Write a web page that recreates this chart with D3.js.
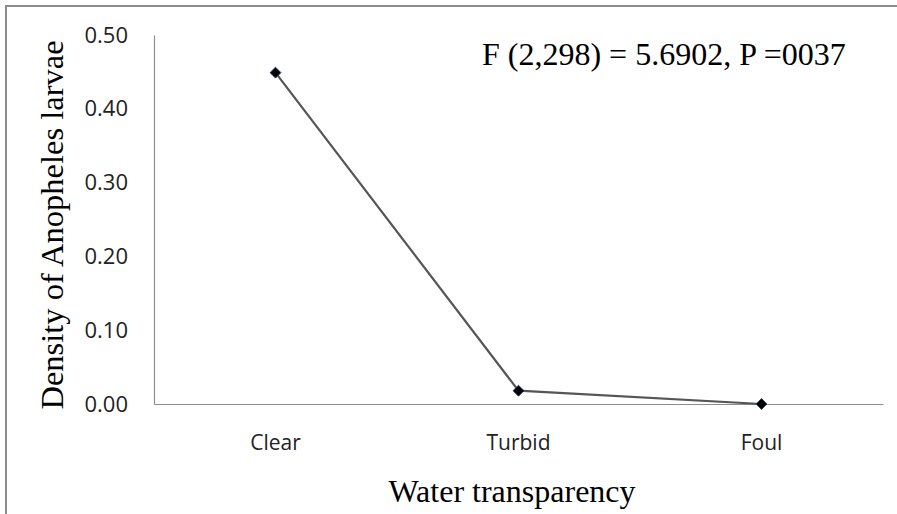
<!DOCTYPE html>
<html><head><meta charset="utf-8">
<script src="https://cdn.jsdelivr.net/npm/d3@7"></script>
<style>body{margin:0;background:#fff}svg{display:block}</style>
</head><body>
<script>
const categories = ["Clear", "Turbid", "Foul"];
const values = [0.449, 0.018, 0.0];
const yTicks = [0, 0.1, 0.2, 0.3, 0.4, 0.5];
const annotation = "F (2,298) = 5.6902, P =0037";
const xTitle = "Water transparency";
const yTitle = "Density of Anopheles larvae";

const W = 897, H = 514;
const svg = d3.select("body").append("svg").attr("width", W).attr("height", H);

// outer frame (top & left visible)
svg.append("path").attr("d", `M6,${H} L6,6 L${W},6`).attr("fill","none")
  .attr("stroke","#8c8c8c").attr("stroke-width",2);

const L = 154, R = 883, T = 35, B = 404;
const x = d3.scaleBand().domain(categories).range([L, R]);
const y = d3.scaleLinear().domain([0, 0.5]).range([B, T]);

const yAxis = svg.append("g").attr("transform", `translate(${L},0)`)
  .call(d3.axisLeft(y).tickValues(yTicks).tickFormat(d3.format(".2f")).tickSize(0).tickPadding(26));
yAxis.select(".domain").attr("stroke","#8c8c8c").attr("stroke-width",1.2);
yAxis.selectAll("text").attr("font-family","'Open Sans', sans-serif").attr("font-size",22).attr("fill","#222");

const xAxis = svg.append("g").attr("transform", `translate(0,${B})`)
  .call(d3.axisBottom(x).tickSize(0).tickPadding(31));
xAxis.select(".domain").attr("stroke","#8c8c8c").attr("stroke-width",1.2);
xAxis.selectAll("text").attr("font-family","'Open Sans', sans-serif").attr("font-size",21).attr("fill","#222");

const line = d3.line().x((d,i)=>x(categories[i]) + x.bandwidth()/2).y(d=>y(d));
svg.append("path").datum(values).attr("d", line).attr("fill","none")
  .attr("stroke","#555").attr("stroke-width",2.2);

svg.selectAll(".pt").data(values).enter().append("path")
  .attr("d", d3.symbol().type(d3.symbolSquare).size(60)())
  .attr("transform",(d,i)=>`translate(${x(categories[i]) + x.bandwidth()/2},${y(d)}) rotate(45)`)
  .attr("fill","#000").attr("stroke","#1f3f6f").attr("stroke-width",0.8);

svg.append("text").attr("x", 482).attr("y", 65).text(annotation)
  .attr("font-family","'Liberation Serif', serif").attr("font-size",32).attr("fill","#000");

svg.append("text").attr("x", 512).attr("y", 502).attr("text-anchor","middle").text(xTitle)
  .attr("font-family","'Liberation Serif', serif").attr("font-size",32).attr("fill","#000");

svg.append("text").attr("transform", `translate(63,225) rotate(-90)`).attr("text-anchor","middle").text(yTitle)
  .attr("font-family","'Liberation Serif', serif").attr("font-size",32.5).attr("fill","#000");
</script>
</body></html>
